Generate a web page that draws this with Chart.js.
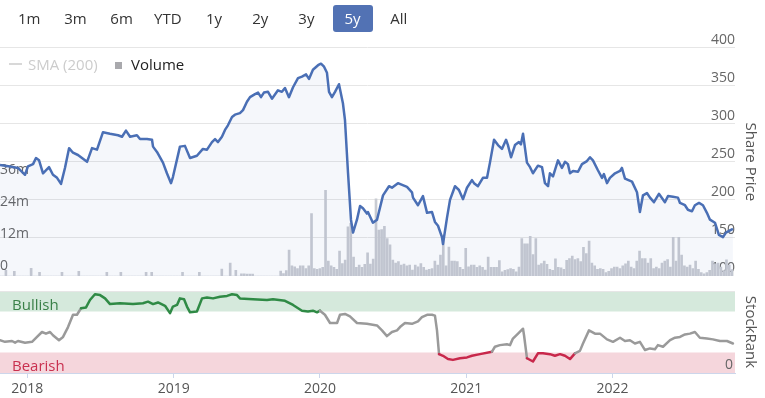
<!DOCTYPE html>
<html>
<head>
<meta charset="utf-8">
<script src="https://cdn.jsdelivr.net/npm/chart.js@4.4.0/dist/chart.umd.min.js"></script>
<style>
  body { margin:0; width:765px; height:398px; background:#fff; position:relative; overflow:hidden; font-family:'Open Sans', sans-serif; }
  .btn { position:absolute; top:5px; width:40px; height:27px; line-height:27px; text-align:center; font-size:15px; color:#333; border-radius:3px; z-index:2; }
  .btn.on { background:#5272b4; color:#fff; }
  .leg { position:absolute; font-size:15px; line-height:20px; top:54px; white-space:nowrap; z-index:2; }
  #priceBox { position:absolute; left:0; top:20px; z-index:1; }
  #rankBox { position:absolute; left:0; top:280px; }
</style>
</head>
<body>
<div id="buttons"></div>
<div class="leg" style="left:9px;top:63px;width:13px;height:2px;background:#d8d8d8;"></div>
<div class="leg" style="left:28px;color:#cccccc;">SMA (200)</div>
<div class="leg" style="left:115px;top:62px;width:7px;height:7px;background:#a9a9ad;"></div>
<div class="leg" style="left:131px;color:#222;">Volume</div>
<div id="priceBox"><canvas id="priceCanvas" width="765" height="256"></canvas></div>
<div id="rankBox"><canvas id="rankCanvas" width="765" height="118"></canvas></div>
<script>
//range buttons
const rangeButtons = ['1m', '3m', '6m', 'YTD', '1y', '2y', '3y', '5y', 'All']
const activeRange = '5y'

//share price (date as decimal year)
const priceDates = [
  2017.813, 2017.881, 2017.936, 2017.984, 2018.004, 2018.039, 2018.059, 2018.080, 2018.107, 2018.148,
  2018.175, 2018.203, 2018.230, 2018.257, 2018.285, 2018.312, 2018.346, 2018.408, 2018.442, 2018.476,
  2018.483, 2018.517, 2018.565, 2018.620, 2018.647, 2018.674, 2018.702, 2018.749, 2018.770, 2018.818,
  2018.852, 2018.859, 2018.886, 2018.927, 2018.954, 2018.982, 2018.995, 2019.043, 2019.077, 2019.112,
  2019.159, 2019.200, 2019.228, 2019.262, 2019.283, 2019.303, 2019.330, 2019.351, 2019.371, 2019.399,
  2019.419, 2019.453, 2019.474, 2019.501, 2019.522, 2019.556, 2019.577, 2019.597, 2019.617, 2019.645,
  2019.672, 2019.713, 2019.740, 2019.761, 2019.788, 2019.816, 2019.850, 2019.877, 2019.905, 2019.925,
  2019.952, 2019.987, 2020.007, 2020.028, 2020.048, 2020.062, 2020.082, 2020.103, 2020.130, 2020.157,
  2020.171, 2020.192, 2020.212, 2020.226, 2020.253, 2020.274, 2020.294, 2020.321, 2020.328, 2020.362,
  2020.390, 2020.431, 2020.472, 2020.492, 2020.533, 2020.595, 2020.629, 2020.636, 2020.670, 2020.704,
  2020.732, 2020.766, 2020.786, 2020.807, 2020.834, 2020.841, 2020.868, 2020.889, 2020.923, 2020.950,
  2020.978, 2021.005, 2021.039, 2021.053, 2021.080, 2021.114, 2021.142, 2021.162, 2021.190, 2021.217,
  2021.244, 2021.272, 2021.285, 2021.306, 2021.333, 2021.360, 2021.374, 2021.388, 2021.415, 2021.436,
  2021.456, 2021.490, 2021.518, 2021.538, 2021.559, 2021.572, 2021.593, 2021.627, 2021.654, 2021.675,
  2021.695, 2021.709, 2021.730, 2021.764, 2021.791, 2021.825, 2021.846, 2021.866, 2021.900, 2021.928,
  2021.941, 2021.962, 2021.982, 2022.017, 2022.051, 2022.064, 2022.085, 2022.133, 2022.167, 2022.187,
  2022.208, 2022.235, 2022.256, 2022.283, 2022.317, 2022.358, 2022.379, 2022.413, 2022.447, 2022.461,
  2022.495, 2022.515, 2022.543, 2022.563, 2022.591, 2022.618, 2022.645, 2022.666, 2022.700, 2022.727,
  2022.755, 2022.775, 2022.803, 2022.823
]
const priceValues = [
  246, 244, 242, 233, 244, 247, 255, 252, 235, 243,
  233, 229, 221, 242, 268, 262, 259, 250, 268, 266,
  270, 289, 287, 285, 283, 291, 283, 285, 280, 280,
  279, 270, 263, 249, 235, 222, 230, 270, 271, 255,
  258, 267, 266, 276, 280, 276, 283, 292, 298, 309,
  312, 314, 318, 329, 335, 339, 341, 335, 341, 342,
  333, 344, 342, 347, 335, 348, 360, 362, 365, 359,
  371, 377, 379, 375, 367, 342, 335, 342, 352, 327,
  305, 235, 174, 157, 174, 192, 189, 182, 184, 170,
  174, 206, 218, 216, 222, 217, 210, 203, 193, 205,
  183, 184, 171, 166, 151, 142, 176, 200, 218, 213,
  201, 216, 226, 222, 218, 229, 229, 249, 279, 272,
  267, 279, 272, 256, 272, 276, 273, 287, 249, 243,
  235, 245, 243, 222, 218, 235, 231, 252, 242, 250,
  247, 235, 238, 237, 247, 251, 256, 252, 239, 229,
  234, 222, 229, 235, 238, 242, 228, 224, 210, 184,
  206, 209, 203, 197, 208, 197, 205, 204, 203, 196,
  193, 187, 185, 193, 196, 193, 183, 174, 170, 154,
  151, 157, 160, 162
]

//weekly volume in millions, first week at volumeStart
const volumeStart = 2017.815
const volumeWeekly = [
  0, 0, 2.1, 0, 0, 1.8, 0, 0, 0, 0,
  0, 2.9, 0, 0, 1.4, 0, 0, 0, 0, 0,
  0, 0, 1.4, 0, 0, 0, 0, 0, 1.8, 0,
  0, 0, 0, 0, 0, 0, 0, 0, 1.4, 0,
  0, 0, 0, 1.4, 0, 0, 0, 0, 0, 0,
  0, 0, 1.4, 0, 1.4, 0, 0, 0, 0, 0,
  0, 0, 0, 0, 0, 1.4, 0, 0, 0, 0,
  0, 1.4, 0, 0, 0, 0, 0, 0, 0, 2.6,
  0, 0, 4.9, 0, 2.1, 0, 0.8, 0.8, 0.7, 0.7,
  0.7, 0, 0, 0, 0, 0, 0, 0, 0, 0,
  1.9, 0.9, 2.0, 9.8, 3.8, 3.5, 2.8, 3.8, 3.8, 2.8,
  3.8, 23.5, 2.8, 2.5, 2.8, 3.3, 32.3, 5.6, 3.8, 3.3,
  2.5, 9.4, 4.7, 6.0, 18.5, 19.8, 7.1, 3.3, 4.1, 3.3,
  4.4, 8.7, 4.5, 6.4, 29.1, 17.3, 17.5, 18.7, 14.1, 11.7,
  6.0, 4.9, 5.4, 4.1, 4.5, 3.8, 4.1, 2.2, 4.1, 3.5,
  4.7, 3.3, 2.2, 2.5, 2.8, 5.6, 4.1, 7.9, 15.4, 3.8,
  10.9, 5.6, 5.6, 5.4, 3.3, 2.5, 10.4, 3.5, 4.1, 4.1,
  3.3, 3.8, 3.3, 2.2, 7.1, 3.3, 3.3, 3.3, 5.8, 1.6,
  2.1, 2.4, 2.8, 2.5, 1.6, 3.4, 14.1, 12.1, 12.1, 14.9,
  8.1, 14.1, 4.1, 4.7, 5.6, 4.4, 2.5, 2.1, 6.5, 3.3,
  3.1, 2.5, 5.9, 6.6, 7.5, 6.2, 6.6, 5.4, 10.8, 8.4,
  13.2, 4.9, 3.8, 2.5, 2.8, 2.5, 1.3, 1.8, 2.8, 3.4,
  3.4, 2.8, 3.8, 4.6, 5.6, 3.4, 2.8, 5.6, 9.4, 6.6,
  6.6, 4.9, 6.6, 2.8, 3.4, 2.8, 4.9, 5.6, 6.2, 3.4,
  14.6, 5.6, 14.6, 7.9, 3.8, 3.4, 4.1, 2.8, 5.6, 2.5,
  1.3, 0.8, 1.3, 2.1, 5.6, 4.6, 4.9, 3.4, 2.0, 6.1,
  4.1, 2.4
]

//stockrank
const rankDates = [
  2017.813, 2017.847, 2017.895, 2017.916, 2017.936, 2017.984, 2018.032, 2018.066, 2018.100, 2018.127,
  2018.155, 2018.175, 2018.216, 2018.244, 2018.278, 2018.312, 2018.339, 2018.367, 2018.401, 2018.428,
  2018.462, 2018.497, 2018.531, 2018.565, 2018.633, 2018.722, 2018.790, 2018.825, 2018.859, 2018.893,
  2018.941, 2018.975, 2018.995, 2019.023, 2019.043, 2019.071, 2019.091, 2019.112, 2019.159, 2019.194,
  2019.228, 2019.269, 2019.317, 2019.365, 2019.399, 2019.433, 2019.453, 2019.542, 2019.638, 2019.679,
  2019.761, 2019.816, 2019.877, 2019.918, 2019.952, 2019.980, 2020.000, 2020.034, 2020.069, 2020.117,
  2020.137, 2020.171, 2020.205, 2020.253, 2020.321, 2020.390, 2020.424, 2020.458, 2020.492, 2020.527,
  2020.547, 2020.581, 2020.629, 2020.670, 2020.697, 2020.732, 2020.766, 2020.786, 2020.800, 2020.814,
  2020.841, 2020.875, 2020.909, 2020.957, 2021.005, 2021.039, 2021.094, 2021.176, 2021.196, 2021.230,
  2021.278, 2021.299, 2021.319, 2021.354, 2021.388, 2021.395, 2021.415, 2021.456, 2021.490, 2021.524,
  2021.572, 2021.606, 2021.641, 2021.675, 2021.709, 2021.743, 2021.777, 2021.798, 2021.839, 2021.880,
  2021.914, 2021.962, 2022.003, 2022.051, 2022.085, 2022.119, 2022.153, 2022.187, 2022.222, 2022.256,
  2022.290, 2022.310, 2022.345, 2022.393, 2022.427, 2022.461, 2022.495, 2022.529, 2022.563, 2022.597,
  2022.645, 2022.686, 2022.734, 2022.782, 2022.823
]
const rankValues = [
  40, 38, 39, 37, 39, 37, 38, 44, 50, 48,
  50, 46, 40, 44, 56, 71, 71, 79, 80, 89,
  96, 95, 91, 84, 85, 84, 85, 87, 84, 86,
  82, 73, 81, 83, 91, 90, 81, 74, 75, 91,
  92, 91, 93, 94, 96, 95, 91, 90, 89, 90,
  88, 83, 76, 75, 76, 74, 76, 71, 61, 61,
  71, 72, 69, 61, 60, 58, 52, 45, 50, 52,
  56, 61, 60, 63, 68, 71, 71, 70, 52, 23,
  21, 17, 16, 18, 19, 21, 23, 26, 32, 34,
  35, 34, 42, 48, 54, 46, 18, 14, 24, 24,
  23, 21, 23, 21, 17, 24, 27, 36, 52, 48,
  48, 41, 38, 43, 39, 40, 36, 38, 28, 30,
  29, 34, 32, 40, 43, 44, 47, 48, 50, 43,
  42, 41, 39, 39, 36
]

//bands and axis ticks
const bandNames = ['Bullish', 'Bearish']
const bandFrom = [75, 0]
const bandTo = [100, 25]
const yearTicks = [2018, 2019, 2020, 2021, 2022]
const volumeTicks = [0, 12, 24, 36]
const xMin = 2017.813
const xMax = 2022.837

Chart.defaults.font.family = "'Open Sans', sans-serif"
Chart.defaults.color = '#666'

//botones de rango
const btnBox = document.getElementById('buttons')
rangeButtons.forEach((b, i) => {
  const d = document.createElement('div')
  d.className = 'btn' + (b === activeRange ? ' on' : '')
  d.style.left = (9.2 + i * 46.2) + 'px'
  d.textContent = b
  btnBox.appendChild(d)
})

const pricePoints = priceDates.map((d, i) => ({ x: d, y: priceValues[i] }))
const volumePoints = volumeWeekly.map((v, i) => ({ x: volumeStart + i * 7 / 365.25, y: v }))
const rankPoints = rankDates.map((d, i) => ({ x: d, y: rankValues[i] }))

const noPad = s => { s.paddingTop = 0; s.paddingBottom = 0; s.paddingLeft = 0; s.paddingRight = 0 }

//grafico de precio + volumen
new Chart(document.getElementById('priceCanvas'), {
  type: 'line',
  data: {
    datasets: [{
      type: 'line',
      label: 'Share Price',
      data: pricePoints,
      yAxisID: 'price',
      borderColor: '#4a6fb5',
      borderWidth: 2.5,
      backgroundColor: 'rgba(74,111,181,0.055)',
      fill: 'start',
      pointRadius: 0,
      tension: 0,
      borderJoinStyle: 'round',
      order: 0
    }, {
      type: 'bar',
      label: 'Volume',
      data: volumePoints,
      yAxisID: 'volume',
      backgroundColor: '#c8cbd2',
      barThickness: 2,
      order: 1
    }]
  },
  options: {
    responsive: false,
    animation: false,
    layout: { padding: { top: 27.7, left: 0, right: 0, bottom: 0 } },
    plugins: { legend: { display: false }, tooltip: { enabled: false } },
    scales: {
      x: { type: 'linear', min: xMin, max: xMax, display: false, offset: false },
      price: {
        type: 'linear', position: 'right', min: 100, max: 400,
        ticks: { stepSize: 50, mirror: true, padding: 0, labelOffset: -7.5, color: '#666', font: { size: 14 } },
        grid: { color: '#e6e6e6', drawTicks: false },
        border: { display: false },
        title: { display: true, text: 'Share Price', color: '#555', font: { size: 15 }, padding: { top: 6, bottom: 0 } },
        afterFit: s => { s.width = 30; noPad(s) }
      },
      volume: {
        type: 'linear', position: 'left', min: 0, max: 86,
        afterBuildTicks: s => { s.ticks = volumeTicks.map(v => ({ value: v })) },
        ticks: { mirror: true, padding: 0, labelOffset: -10, color: '#666', font: { size: 14 },
          callback: v => v === 0 ? '0' : v + 'm' },
        grid: { display: false },
        border: { display: false },
        afterFit: s => { s.width = 0; noPad(s) }
      }
    }
  }
})

//bandas bullish / bearish
const bandsPlugin = {
  id: 'bands',
  beforeDraw(chart) {
    const { ctx, chartArea: a, scales: { y } } = chart
    const fills = ['#d5e9dc', '#f5d6dc']
    const texts = ['#3a8048', '#c9304f']
    ctx.save()
    bandNames.forEach((name, i) => {
      const top = y.getPixelForValue(bandTo[i])
      const bot = y.getPixelForValue(bandFrom[i])
      ctx.fillStyle = fills[i]
      ctx.fillRect(a.left, top, a.right - a.left, bot - top)
      ctx.fillStyle = texts[i]
      ctx.font = "15px 'Open Sans', sans-serif"
      ctx.textBaseline = 'alphabetic'
      ctx.fillText(name, a.left + 12, bot - 2)
    })
    ctx.restore()
  }
}

const segColor = c => {
  const a = c.p0.parsed.y, b = c.p1.parsed.y
  if (a >= 72.5 && b >= 72.5) return '#2f8a45'
  if (a <= 26.5 && b <= 26.5) return '#c8284b'
  return '#9a9a9a'
}

//grafico stockrank
new Chart(document.getElementById('rankCanvas'), {
  type: 'line',
  data: {
    datasets: [{
      label: 'StockRank',
      data: rankPoints,
      borderColor: '#9a9a9a',
      borderWidth: 2.5,
      pointRadius: 0,
      tension: 0,
      borderJoinStyle: 'round',
      borderCapStyle: 'round',
      segment: { borderColor: segColor }
    }]
  },
  options: {
    responsive: false,
    animation: false,
    layout: { padding: { top: 11, left: 0, right: 0, bottom: 0 } },
    plugins: { legend: { display: false }, tooltip: { enabled: false } },
    scales: {
      x: {
        type: 'linear', min: xMin, max: xMax, offset: false,
        afterBuildTicks: s => { s.ticks = yearTicks.map(v => ({ value: v })) },
        ticks: { callback: v => String(v), color: '#555', font: { size: 14 }, padding: 3, maxRotation: 0, autoSkip: false },
        grid: { drawOnChartArea: false, drawTicks: true, tickLength: 5, color: '#ccd6eb' },
        border: { display: true, color: '#ccd6eb' },
        afterFit: s => { s.height = 25; noPad(s) }
      },
      y: {
        type: 'linear', position: 'right', min: 0, max: 100,
        afterBuildTicks: s => { s.ticks = [{ value: 0 }, { value: 100 }] },
        ticks: { mirror: true, padding: -2, labelOffset: -8, color: '#666', font: { size: 14 },
          callback: v => v === 0 ? '0' : '' },
        grid: { color: c => c.tick && c.tick.value === 100 ? '#e6e6e6' : 'rgba(0,0,0,0)', drawTicks: false },
        border: { display: false },
        title: { display: true, text: 'StockRank', color: '#555', font: { size: 15 }, padding: { top: 6, bottom: 0 } },
        afterFit: s => { s.width = 30; noPad(s) }
      }
    }
  },
  plugins: [bandsPlugin]
})
</script>
</body>
</html>
